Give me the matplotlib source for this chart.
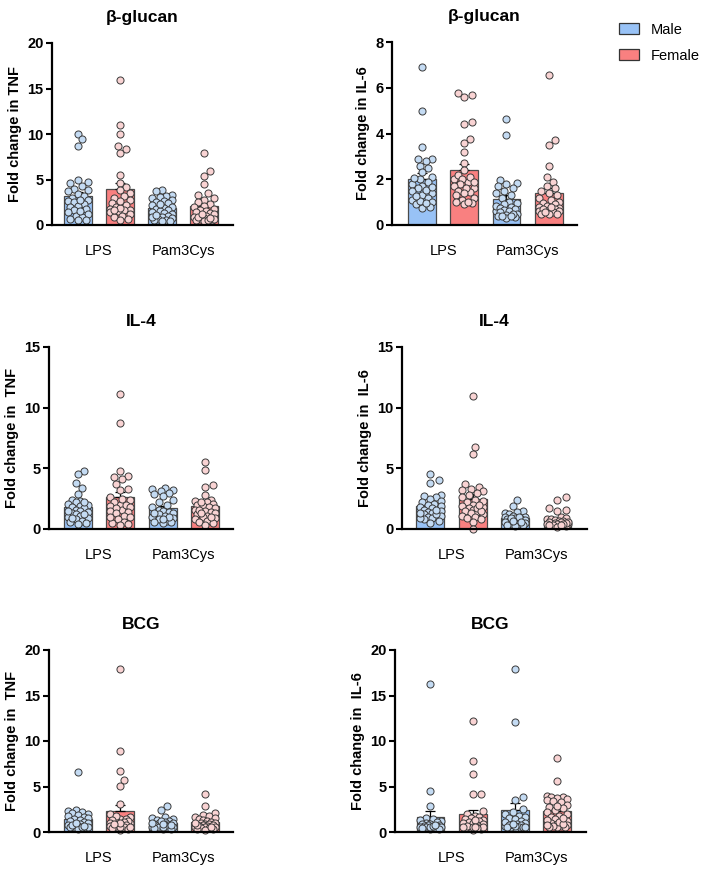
import numpy as np
import matplotlib
matplotlib.use("Agg")
import matplotlib.pyplot as plt
from matplotlib.patches import Patch

plt.rcParams['font.family'] = ['Liberation Sans', 'DejaVu Sans']

# ---------------- data ----------------
stimuli = ["LPS", "Pam3Cys"]
sexes = ["Male", "Female"]
titles = ["β-glucan", "β-glucan", "IL-4", "IL-4", "BCG", "BCG"]
ylabels = ["Fold change in TNF", "Fold change in IL-6",
           "Fold change in  TNF", "Fold change in  IL-6",
           "Fold change in  TNF", "Fold change in  IL-6"]
yticks_list = [[0, 5, 10, 15, 20], [0, 2, 4, 6, 8],
               [0, 5, 10, 15], [0, 5, 10, 15],
               [0, 5, 10, 15, 20], [0, 5, 10, 15, 20]]

bg_tnf_m_lps = [10.0, 9.4, 8.7, 5.0, 4.7, 4.6, 4.3, 4.0, 3.9, 3.7, 3.4, 3.2, 3.0, 2.8, 2.6,
                2.5, 2.3, 2.1, 2.0, 1.8, 1.6, 1.4, 1.2, 1.0, 0.9, 0.7, 0.5, 0.5, 1.5, 2.7]
bg_tnf_f_lps = [15.9, 11.0, 10.0, 8.7, 8.4, 7.9, 5.5, 4.6, 4.2, 3.8, 3.5, 3.2, 3.0, 2.7, 2.4,
                2.2, 2.0, 1.8, 1.7, 1.6, 1.5, 1.4, 1.2, 1.0, 0.9, 0.7, 0.5, 1.9, 2.6, 1.6]
bg_tnf_m_pam = [3.8, 3.7, 3.3, 3.2, 3.1, 3.0, 2.8, 2.6, 2.5, 2.4, 2.2, 2.0, 1.9, 1.8, 1.6,
                1.5, 1.4, 1.3, 1.2, 1.0, 0.9, 0.8, 0.7, 0.6, 0.5, 0.4, 2.3, 0.9, 1.1, 0.4]
bg_tnf_f_pam = [7.9, 5.9, 5.4, 4.5, 3.5, 3.3, 3.0, 2.8, 2.5, 2.3, 2.1, 2.0, 1.8, 1.6, 1.5,
                1.4, 1.3, 1.2, 1.0, 0.9, 0.8, 0.7, 0.6, 0.5, 0.4, 0.7, 0.9, 0.6, 1.2, 0.8]

bg_il6_m_lps = [6.9, 5.0, 3.4, 2.9, 2.9, 2.8, 2.6, 2.5, 2.1, 2.0, 1.9, 1.8, 1.7, 1.6, 1.5,
                1.4, 1.3, 1.2, 1.1, 1.0, 0.9, 0.8, 0.75, 1.55, 1.65, 1.05, 1.25, 2.05, 2.3, 0.95]
bg_il6_f_lps = [5.75, 5.7, 5.6, 4.5, 4.4, 3.75, 3.6, 3.2, 2.0, 1.9, 2.7, 1.6, 2.4, 1.45, 2.2,
                2.1, 2.0, 1.9, 1.8, 1.7, 1.6, 1.5, 1.4, 1.3, 1.2, 1.1, 1.0, 0.9, 0.95, 1.0]
bg_il6_m_pam = [4.65, 3.95, 1.95, 1.85, 1.8, 1.7, 1.6, 1.5, 1.4, 1.3, 1.2, 0.6, 1.0, 0.95, 0.9,
                0.85, 0.8, 0.75, 0.7, 0.65, 0.6, 0.55, 0.5, 0.45, 0.4, 0.35, 0.3, 0.5, 0.4, 0.4]
bg_il6_f_pam = [6.55, 3.7, 3.5, 2.6, 2.1, 1.9, 1.7, 1.6, 1.5, 1.4, 1.3, 1.2, 1.1, 1.0, 0.95,
                0.9, 0.85, 0.8, 0.75, 0.7, 0.65, 0.6, 0.55, 0.5, 0.5, 0.8, 0.6, 0.7, 0.5, 0.55]

il4_tnf_m_lps = [4.8, 4.5, 3.8, 3.4, 2.9, 2.4, 2.3, 2.2, 2.1, 2.0, 1.9, 1.8, 1.7, 1.6, 1.5,
                 1.4, 1.3, 1.2, 1.1, 1.0, 0.9, 0.8, 0.7, 0.6, 0.5, 0.4, 1.5, 1.2, 0.9, 2.2]
il4_tnf_f_lps = [11.1, 8.7, 4.75, 4.4, 4.3, 4.1, 3.7, 3.3, 3.2, 2.0, 1.6, 2.6, 2.5, 2.4, 2.2,
                 2.0, 1.9, 1.8, 1.7, 1.5, 1.4, 1.3, 1.1, 1.0, 0.8, 0.6, 0.4, 0.3, 0.5, 1.0]
il4_tnf_m_pam = [3.4, 3.3, 3.2, 3.1, 3.0, 2.9, 2.7, 2.4, 2.2, 2.0, 1.8, 1.6, 1.5, 1.4, 1.3,
                 1.2, 1.1, 1.0, 0.9, 0.8, 0.7, 0.6, 0.5, 1.0, 0.8, 1.3, 0.6]
il4_tnf_f_pam = [5.5, 4.85, 3.65, 3.5, 2.8, 2.4, 2.3, 2.2, 2.1, 2.0, 1.9, 1.8, 1.7, 1.6, 1.5,
                 1.4, 1.3, 1.2, 1.1, 1.0, 0.9, 0.8, 0.7, 0.6, 0.5, 0.3, 1.6, 1.3, 1.0, 2.2]

il4_il6_m_lps = [4.5, 4.0, 3.8, 2.8, 2.7, 2.6, 2.5, 2.3, 2.2, 2.1, 2.0, 1.9, 1.8, 1.7, 1.6,
                 1.5, 1.4, 1.3, 1.2, 1.1, 1.0, 0.9, 0.8, 0.7, 0.5, 1.2, 1.6, 0.9, 1.3]
il4_il6_f_lps = [11.0, 6.75, 6.2, 3.7, 3.5, 3.3, 3.2, 3.1, 3.0, 2.8, 2.6, 2.4, 2.2, 2.0, 1.9,
                 1.8, 1.7, 1.6, 1.5, 1.4, 1.3, 1.2, 1.0, 0.8, 0.6, 0.0, 1.7, 2.3, 1.5, 2.0, 1.1, 0.9]
il4_il6_m_pam = [2.4, 1.9, 1.5, 1.4, 1.3, 1.2, 1.1, 1.0, 0.95, 0.9, 0.85, 0.8, 0.75, 0.7, 0.65,
                 0.6, 0.55, 0.5, 0.45, 0.4, 0.35, 0.3, 0.25, 0.9, 1.0, 0.6, 0.7]
il4_il6_f_pam = [2.6, 2.4, 1.7, 1.6, 1.5, 0.4, 0.5, 0.6, 0.5, 0.6, 0.95, 0.9, 0.85, 0.8, 0.75,
                 0.7, 0.65, 0.6, 0.55, 0.5, 0.45, 0.4, 0.35, 0.3, 0.25, 0.2, 0.6, 0.5, 0.4, 0.3]

bcg_tnf_m_lps = [6.6, 2.4, 2.3, 2.2, 2.1, 2.0, 1.9, 1.8, 1.6, 1.5, 1.4, 1.3, 1.2, 1.1, 1.0,
                 0.9, 0.8, 0.7, 0.6, 0.5, 0.4, 0.3, 0.8, 1.0, 0.6, 0.5, 0.7]
bcg_tnf_f_lps = [17.9, 8.9, 6.7, 5.7, 5.1, 3.1, 1.4, 1.2, 1.0, 0.9, 2.0, 1.8, 1.6, 1.4, 1.3,
                 1.2, 1.1, 1.0, 0.9, 0.8, 0.7, 0.6, 0.5, 0.4, 0.3, 0.2, 0.6, 1.0, 0.6, 0.9]
bcg_tnf_m_pam = [2.9, 2.4, 1.7, 1.5, 1.4, 1.3, 1.2, 1.1, 1.0, 0.95, 0.9, 0.85, 0.8, 0.75, 0.7,
                 0.65, 0.6, 0.55, 0.5, 0.45, 0.4, 0.35, 0.3, 1.0, 0.8, 0.6, 1.2, 0.9]
bcg_tnf_f_pam = [4.2, 2.9, 2.1, 1.9, 1.8, 1.6, 1.5, 1.4, 1.3, 1.2, 1.1, 1.0, 0.95, 0.9, 0.85,
                 0.8, 0.75, 0.7, 0.65, 0.6, 0.55, 0.5, 0.45, 0.4, 0.35, 0.3, 0.25, 0.8, 0.6, 1.0]

bcg_il6_m_lps = [16.3, 4.5, 2.9, 1.5, 1.4, 1.3, 1.2, 1.1, 1.0, 0.9, 0.85, 0.8, 0.75, 0.7, 0.65,
                 0.6, 0.55, 0.5, 0.45, 0.4, 0.35, 0.3, 0.6, 0.7, 0.8]
bcg_il6_f_lps = [12.2, 7.8, 6.4, 4.2, 4.2, 2.3, 2.0, 1.8, 1.6, 1.5, 1.4, 1.3, 1.2, 1.1, 1.0,
                 0.9, 0.8, 0.7, 0.6, 0.5, 0.4, 0.3, 0.2, 1.0, 0.7, 0.5, 0.6, 1.3, 0.4, 0.5, 0.6]
bcg_il6_m_pam = [17.9, 12.1, 3.8, 3.5, 2.5, 2.2, 2.0, 1.8, 1.6, 1.5, 1.4, 1.2, 1.0, 0.9, 0.8,
                 0.7, 0.6, 0.5, 0.4, 0.6, 1.1, 0.8, 0.5, 0.7, 0.9, 0.6]
bcg_il6_f_pam = [8.1, 5.6, 4.0, 3.9, 3.8, 3.7, 3.6, 3.5, 3.4, 3.3, 3.0, 2.8, 2.6, 2.4, 2.2,
                 2.0, 1.8, 1.6, 1.4, 1.2, 1.0, 0.9, 0.8, 0.7, 0.6, 0.5, 1.1, 1.3, 0.9, 0.7,
                 1.5, 2.9, 0.6, 0.8]

panel_data = [
    [bg_tnf_m_lps, bg_tnf_f_lps, bg_tnf_m_pam, bg_tnf_f_pam],
    [bg_il6_m_lps, bg_il6_f_lps, bg_il6_m_pam, bg_il6_f_pam],
    [il4_tnf_m_lps, il4_tnf_f_lps, il4_tnf_m_pam, il4_tnf_f_pam],
    [il4_il6_m_lps, il4_il6_f_lps, il4_il6_m_pam, il4_il6_f_pam],
    [bcg_tnf_m_lps, bcg_tnf_f_lps, bcg_tnf_m_pam, bcg_tnf_f_pam],
    [bcg_il6_m_lps, bcg_il6_f_lps, bcg_il6_m_pam, bcg_il6_f_pam],
]

# ---------------- style / layout ----------------
W, H = 703, 873
bar_colors = ["#98C2F6", "#F98080"]
dot_colors = ["#C4DBF3", "#F9D3D3"]
bar_edge = "#4a4a4a"

# (left, right, top, bottom) in pixels, and x-limits
boxes = [(52, 233, 43, 225), (392, 577, 42, 225),
         (49, 233, 347, 529), (402, 587, 347, 529),
         (49, 233, 650, 832), (395, 586, 650, 832)]
xlims = [(-0.62, 3.69), (-0.71, 3.67), (-0.68, 3.66),
         (-0.67, 3.70), (-0.68, 3.66), (-0.84, 3.68)]


def swarm_offsets(ypix, d, maxoff):
    n = len(ypix)
    offs = np.zeros(n)
    cands = [0.0]
    step = d * 0.3
    k = 1
    while k * step <= maxoff + 1e-9:
        cands += [k * step, -k * step]
        k += 1
    placed = []
    for i in np.argsort(ypix, kind="stable"):
        best = None
        bestc, bestov = 0.0, None
        for c in cands:
            ov = 0.0
            for (px, py) in placed:
                dist = np.hypot(c - px, ypix[i] - py)
                if dist < d:
                    ov = max(ov, d - dist)
            if ov == 0.0:
                best = c
                break
            if bestov is None or ov < bestov:
                bestov, bestc = ov, c
        if best is None:
            best = bestc
        offs[i] = best
        placed.append((best, ypix[i]))
    return offs


fig = plt.figure(figsize=(W / 100, H / 100), dpi=100)

FS = 10.5
for p in range(6):
    l, r, t, b = boxes[p]
    ax = fig.add_axes([l / W, 1 - b / H, (r - l) / W, (b - t) / H])
    yt = yticks_list[p]
    ax.set_ylim(0, yt[-1])
    ax.set_xlim(*xlims[p])
    xpx_per_unit = (r - l) / (xlims[p][1] - xlims[p][0])
    ypx_per_unit = (b - t) / yt[-1]
    bw = 0.655
    for g, vals in enumerate(panel_data[p]):
        v = np.asarray(vals, dtype=float)
        sex = g % 2
        mean = v.mean()
        sem = v.std(ddof=1) / np.sqrt(len(v))
        ax.bar(g, mean, width=bw, color=bar_colors[sex], edgecolor=bar_edge,
               linewidth=0.9, zorder=1)
        ax.errorbar(g, mean, yerr=[[0], [sem]], fmt="none", ecolor="black",
                    elinewidth=0.9, capsize=3.4, capthick=0.9, zorder=2)
        offs = swarm_offsets(v * ypx_per_unit, 6.8, 11.0) / xpx_per_unit
        ax.scatter(g + offs, v, s=26, facecolor=dot_colors[sex],
                   edgecolor="#3a3a3a", linewidth=0.7, zorder=3, clip_on=False)
    for s in ["top", "right"]:
        ax.spines[s].set_visible(False)
    for s in ["left", "bottom"]:
        ax.spines[s].set_linewidth(1.6)
        ax.spines[s].set_color("black")
        ax.spines[s].set_zorder(5)
    ax.set_yticks(yt)
    ax.set_yticklabels([str(v) for v in yt], fontsize=FS, fontweight="bold")
    ax.tick_params(axis="y", length=4, width=1.5, pad=2)
    ax.set_xticks([0.5, 2.5])
    ax.set_xticklabels(stimuli, fontsize=FS)
    ax.tick_params(axis="x", length=0, pad=14)
    ax.set_ylabel(ylabels[p], fontsize=FS, fontweight="bold", labelpad=4)
    ax.set_title(titles[p], fontsize=12.5, fontweight="bold", pad=15)

handles = [Patch(facecolor=bar_colors[0], edgecolor="#333333", linewidth=0.9),
           Patch(facecolor=bar_colors[1], edgecolor="#333333", linewidth=0.9)]
fig.legend(handles, sexes, loc="upper left", bbox_to_anchor=(613 / W, 1 - 17 / H),
           frameon=False, fontsize=FS, handlelength=1.4, handleheight=0.75,
           labelspacing=0.8, handletextpad=0.8, borderaxespad=0)

fig.savefig("out.png", dpi=100)
